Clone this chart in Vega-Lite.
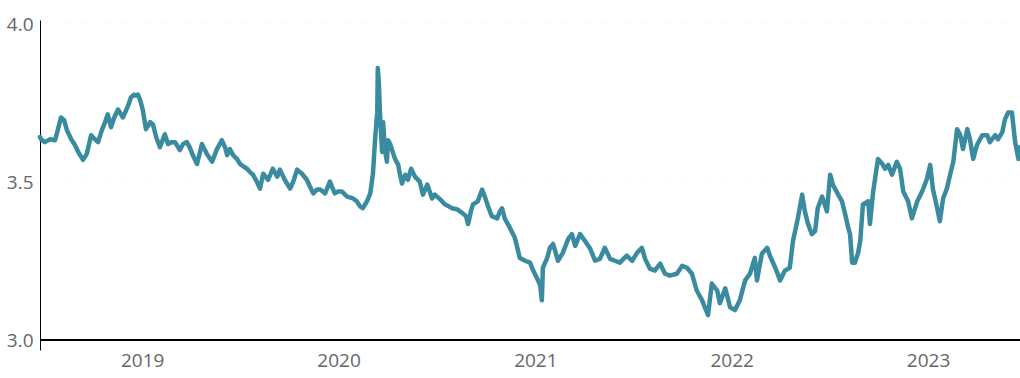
{
  "$schema": "https://vega.github.io/schema/vega-lite/v6.json",
  "width": 980,
  "height": 330,
  "autosize": "none",
  "padding": {"left": 40, "top": 20, "right": 0, "bottom": 28},
  "background": "white",
  "config": {"view": {"stroke": null}, "font": "Open Sans"},
  "data": {"values": [
    {"date":"2018-06-25","value":3.641},{"date":"2018-06-27","value":3.634},{"date":"2018-07-04","value":3.625},{"date":"2018-07-14","value":3.634},
    {"date":"2018-07-23","value":3.631},{"date":"2018-07-28","value":3.663},{"date":"2018-08-03","value":3.703},{"date":"2018-08-09","value":3.694},
    {"date":"2018-08-14","value":3.663},{"date":"2018-08-22","value":3.634},{"date":"2018-08-29","value":3.616},{"date":"2018-09-04","value":3.594},
    {"date":"2018-09-13","value":3.569},{"date":"2018-09-20","value":3.588},{"date":"2018-09-28","value":3.647},{"date":"2018-10-05","value":3.634},
    {"date":"2018-10-11","value":3.625},{"date":"2018-10-18","value":3.663},{"date":"2018-10-24","value":3.688},{"date":"2018-10-29","value":3.713},
    {"date":"2018-11-04","value":3.672},{"date":"2018-11-10","value":3.703},{"date":"2018-11-17","value":3.728},{"date":"2018-11-26","value":3.703},
    {"date":"2018-12-02","value":3.725},{"date":"2018-12-06","value":3.741},{"date":"2018-12-11","value":3.766},{"date":"2018-12-17","value":3.775},
    {"date":"2018-12-20","value":3.772},{"date":"2018-12-24","value":3.775},{"date":"2018-12-28","value":3.759},{"date":"2019-01-02","value":3.728},
    {"date":"2019-01-08","value":3.666},{"date":"2019-01-16","value":3.688},{"date":"2019-01-21","value":3.681},{"date":"2019-01-27","value":3.641},
    {"date":"2019-02-03","value":3.609},{"date":"2019-02-12","value":3.650},{"date":"2019-02-18","value":3.619},{"date":"2019-02-25","value":3.625},
    {"date":"2019-03-03","value":3.625},{"date":"2019-03-12","value":3.600},{"date":"2019-03-18","value":3.619},{"date":"2019-03-25","value":3.625},
    {"date":"2019-03-31","value":3.606},{"date":"2019-04-05","value":3.584},{"date":"2019-04-13","value":3.556},{"date":"2019-04-22","value":3.619},
    {"date":"2019-05-01","value":3.588},{"date":"2019-05-11","value":3.563},{"date":"2019-05-20","value":3.603},{"date":"2019-05-29","value":3.631},
    {"date":"2019-06-04","value":3.609},{"date":"2019-06-08","value":3.584},{"date":"2019-06-13","value":3.603},{"date":"2019-06-19","value":3.584},
    {"date":"2019-06-26","value":3.572},{"date":"2019-07-02","value":3.556},{"date":"2019-07-09","value":3.547},{"date":"2019-07-15","value":3.541},
    {"date":"2019-07-20","value":3.531},{"date":"2019-07-26","value":3.522},{"date":"2019-08-02","value":3.500},{"date":"2019-08-08","value":3.478},
    {"date":"2019-08-14","value":3.525},{"date":"2019-08-23","value":3.506},{"date":"2019-09-01","value":3.541},{"date":"2019-09-09","value":3.516},
    {"date":"2019-09-14","value":3.538},{"date":"2019-09-23","value":3.506},{"date":"2019-10-03","value":3.478},{"date":"2019-10-10","value":3.506},
    {"date":"2019-10-16","value":3.538},{"date":"2019-10-25","value":3.525},{"date":"2019-11-03","value":3.506},{"date":"2019-11-09","value":3.484},
    {"date":"2019-11-15","value":3.463},{"date":"2019-11-22","value":3.475},{"date":"2019-11-28","value":3.475},{"date":"2019-12-07","value":3.463},
    {"date":"2019-12-16","value":3.500},{"date":"2019-12-25","value":3.463},{"date":"2019-12-31","value":3.469},{"date":"2020-01-07","value":3.469},
    {"date":"2020-01-17","value":3.453},{"date":"2020-01-28","value":3.447},{"date":"2020-02-04","value":3.438},{"date":"2020-02-10","value":3.422},
    {"date":"2020-02-15","value":3.416},{"date":"2020-02-23","value":3.438},{"date":"2020-02-29","value":3.463},{"date":"2020-03-03","value":3.500},
    {"date":"2020-03-05","value":3.525},{"date":"2020-03-09","value":3.634},{"date":"2020-03-13","value":3.719},{"date":"2020-03-14","value":3.859},
    {"date":"2020-03-16","value":3.813},{"date":"2020-03-18","value":3.719},{"date":"2020-03-22","value":3.594},{"date":"2020-03-24","value":3.688},
    {"date":"2020-03-27","value":3.603},{"date":"2020-03-31","value":3.563},{"date":"2020-04-02","value":3.631},{"date":"2020-04-06","value":3.619},
    {"date":"2020-04-09","value":3.603},{"date":"2020-04-15","value":3.572},{"date":"2020-04-21","value":3.553},{"date":"2020-04-24","value":3.525},
    {"date":"2020-04-28","value":3.494},{"date":"2020-05-04","value":3.522},{"date":"2020-05-09","value":3.506},{"date":"2020-05-15","value":3.541},
    {"date":"2020-05-22","value":3.516},{"date":"2020-05-31","value":3.500},{"date":"2020-06-06","value":3.459},{"date":"2020-06-14","value":3.491},
    {"date":"2020-06-23","value":3.447},{"date":"2020-06-28","value":3.459},{"date":"2020-07-08","value":3.444},{"date":"2020-07-17","value":3.428},
    {"date":"2020-07-24","value":3.422},{"date":"2020-07-30","value":3.416},{"date":"2020-08-08","value":3.413},{"date":"2020-08-19","value":3.400},
    {"date":"2020-08-25","value":3.391},{"date":"2020-08-29","value":3.366},{"date":"2020-09-03","value":3.406},{"date":"2020-09-07","value":3.428},
    {"date":"2020-09-16","value":3.438},{"date":"2020-09-24","value":3.475},{"date":"2020-09-29","value":3.453},{"date":"2020-10-05","value":3.422},
    {"date":"2020-10-12","value":3.391},{"date":"2020-10-22","value":3.384},{"date":"2020-10-27","value":3.406},{"date":"2020-10-31","value":3.416},
    {"date":"2020-11-05","value":3.384},{"date":"2020-11-15","value":3.353},{"date":"2020-11-24","value":3.322},{"date":"2020-12-03","value":3.259},
    {"date":"2020-12-13","value":3.250},{"date":"2020-12-22","value":3.244},{"date":"2020-12-28","value":3.219},{"date":"2021-01-06","value":3.188},
    {"date":"2021-01-10","value":3.172},{"date":"2021-01-13","value":3.125},{"date":"2021-01-15","value":3.228},{"date":"2021-01-23","value":3.259},
    {"date":"2021-01-28","value":3.291},{"date":"2021-02-03","value":3.303},{"date":"2021-02-12","value":3.250},{"date":"2021-02-21","value":3.275},
    {"date":"2021-03-03","value":3.319},{"date":"2021-03-10","value":3.334},{"date":"2021-03-16","value":3.297},{"date":"2021-03-25","value":3.334},
    {"date":"2021-04-03","value":3.313},{"date":"2021-04-13","value":3.288},{"date":"2021-04-22","value":3.250},{"date":"2021-05-01","value":3.256},
    {"date":"2021-05-10","value":3.291},{"date":"2021-05-20","value":3.256},{"date":"2021-05-29","value":3.250},{"date":"2021-06-07","value":3.244},
    {"date":"2021-06-20","value":3.266},{"date":"2021-06-30","value":3.250},{"date":"2021-07-09","value":3.275},{"date":"2021-07-18","value":3.291},
    {"date":"2021-07-24","value":3.256},{"date":"2021-08-02","value":3.225},{"date":"2021-08-11","value":3.219},{"date":"2021-08-21","value":3.241},
    {"date":"2021-08-30","value":3.209},{"date":"2021-09-08","value":3.203},{"date":"2021-09-21","value":3.209},{"date":"2021-10-01","value":3.234},
    {"date":"2021-10-10","value":3.228},{"date":"2021-10-19","value":3.209},{"date":"2021-10-28","value":3.156},{"date":"2021-11-07","value":3.125},
    {"date":"2021-11-12","value":3.103},{"date":"2021-11-18","value":3.078},{"date":"2021-11-25","value":3.178},{"date":"2021-12-05","value":3.156},
    {"date":"2021-12-10","value":3.116},{"date":"2021-12-20","value":3.163},{"date":"2021-12-29","value":3.103},{"date":"2022-01-07","value":3.094},
    {"date":"2022-01-16","value":3.125},{"date":"2022-01-26","value":3.188},{"date":"2022-02-04","value":3.209},{"date":"2022-02-13","value":3.259},
    {"date":"2022-02-17","value":3.188},{"date":"2022-02-26","value":3.272},{"date":"2022-03-08","value":3.291},{"date":"2022-03-13","value":3.266},
    {"date":"2022-03-23","value":3.228},{"date":"2022-04-01","value":3.188},{"date":"2022-04-10","value":3.219},{"date":"2022-04-19","value":3.228},
    {"date":"2022-04-25","value":3.313},{"date":"2022-05-04","value":3.384},{"date":"2022-05-12","value":3.459},{"date":"2022-05-17","value":3.406},
    {"date":"2022-05-23","value":3.366},{"date":"2022-05-30","value":3.334},{"date":"2022-06-05","value":3.344},{"date":"2022-06-10","value":3.416},
    {"date":"2022-06-18","value":3.453},{"date":"2022-06-27","value":3.406},{"date":"2022-07-03","value":3.522},{"date":"2022-07-08","value":3.491},
    {"date":"2022-07-18","value":3.459},{"date":"2022-07-25","value":3.438},{"date":"2022-07-31","value":3.397},{"date":"2022-08-05","value":3.359},
    {"date":"2022-08-09","value":3.334},{"date":"2022-08-13","value":3.244},{"date":"2022-08-18","value":3.244},{"date":"2022-08-24","value":3.275},
    {"date":"2022-08-28","value":3.313},{"date":"2022-09-02","value":3.428},{"date":"2022-09-12","value":3.438},{"date":"2022-09-15","value":3.366},
    {"date":"2022-09-21","value":3.469},{"date":"2022-09-30","value":3.572},{"date":"2022-10-08","value":3.556},{"date":"2022-10-13","value":3.541},
    {"date":"2022-10-19","value":3.553},{"date":"2022-10-26","value":3.522},{"date":"2022-11-04","value":3.563},{"date":"2022-11-10","value":3.541},
    {"date":"2022-11-16","value":3.469},{"date":"2022-11-25","value":3.438},{"date":"2022-12-02","value":3.384},{"date":"2022-12-12","value":3.438},
    {"date":"2022-12-21","value":3.469},{"date":"2022-12-30","value":3.509},{"date":"2023-01-05","value":3.553},{"date":"2023-01-10","value":3.478},
    {"date":"2023-01-18","value":3.416},{"date":"2023-01-23","value":3.375},{"date":"2023-01-29","value":3.447},{"date":"2023-02-05","value":3.478},
    {"date":"2023-02-11","value":3.522},{"date":"2023-02-17","value":3.563},{"date":"2023-02-24","value":3.666},{"date":"2023-03-02","value":3.647},
    {"date":"2023-03-07","value":3.603},{"date":"2023-03-15","value":3.666},{"date":"2023-03-20","value":3.634},{"date":"2023-03-26","value":3.572},
    {"date":"2023-04-02","value":3.616},{"date":"2023-04-12","value":3.647},{"date":"2023-04-21","value":3.647},{"date":"2023-04-26","value":3.625},
    {"date":"2023-05-06","value":3.647},{"date":"2023-05-11","value":3.634},{"date":"2023-05-19","value":3.656},{"date":"2023-05-24","value":3.697},
    {"date":"2023-05-30","value":3.719},{"date":"2023-06-06","value":3.719},{"date":"2023-06-12","value":3.625},{"date":"2023-06-18","value":3.572},
    {"date":"2023-06-21","value":3.609}
  ]},
  "layer": [
    {
      "mark": {"type": "line", "color": "#3b8ba0", "strokeWidth": 4.5, "strokeJoin": "round", "strokeCap": "round"},
      "encoding": {
        "x": {
          "field": "date", "type": "temporal",
          "scale": {"type": "utc", "domain": [{"year": 2018, "month": 6, "date": 25, "utc": true}, {"year": 2023, "month": 6, "date": 21, "utc": true}]},
          "axis": {
            "title": null, "format": "%Y", "domain": false, "ticks": false, "grid": false,
            "values": [
              {"year": 2019, "month": 1, "date": 1, "utc": true},
              {"year": 2020, "month": 1, "date": 1, "utc": true},
              {"year": 2021, "month": 1, "date": 1, "utc": true},
              {"year": 2022, "month": 1, "date": 1, "utc": true},
              {"year": 2023, "month": 1, "date": 1, "utc": true}
            ],
            "labelFont": "Open Sans", "labelFontSize": 19, "labelColor": "#666666", "labelPadding": 1, "labelFlush": false
          }
        },
        "y": {
          "field": "value", "type": "quantitative",
          "scale": {"domain": [2.968, 4.011], "nice": false, "zero": false},
          "axis": {
            "title": null, "values": [3.0, 3.5, 4.0], "format": ".1f",
            "domain": true, "domainColor": "#000000", "domainWidth": 1,
            "ticks": false, "tickSize": 0, "labelPadding": 7, "labelOffset": 1,
            "grid": true, "gridColor": "#ececec", "gridDash": [1, 4], "gridWidth": 1,
            "labelFont": "Open Sans", "labelFontSize": 19, "labelColor": "#666666"
          }
        }
      }
    },
    {
      "mark": {"type": "rule", "color": "#000000", "strokeWidth": 1},
      "encoding": {"y": {"datum": 3.0}}
    }
  ]
}
